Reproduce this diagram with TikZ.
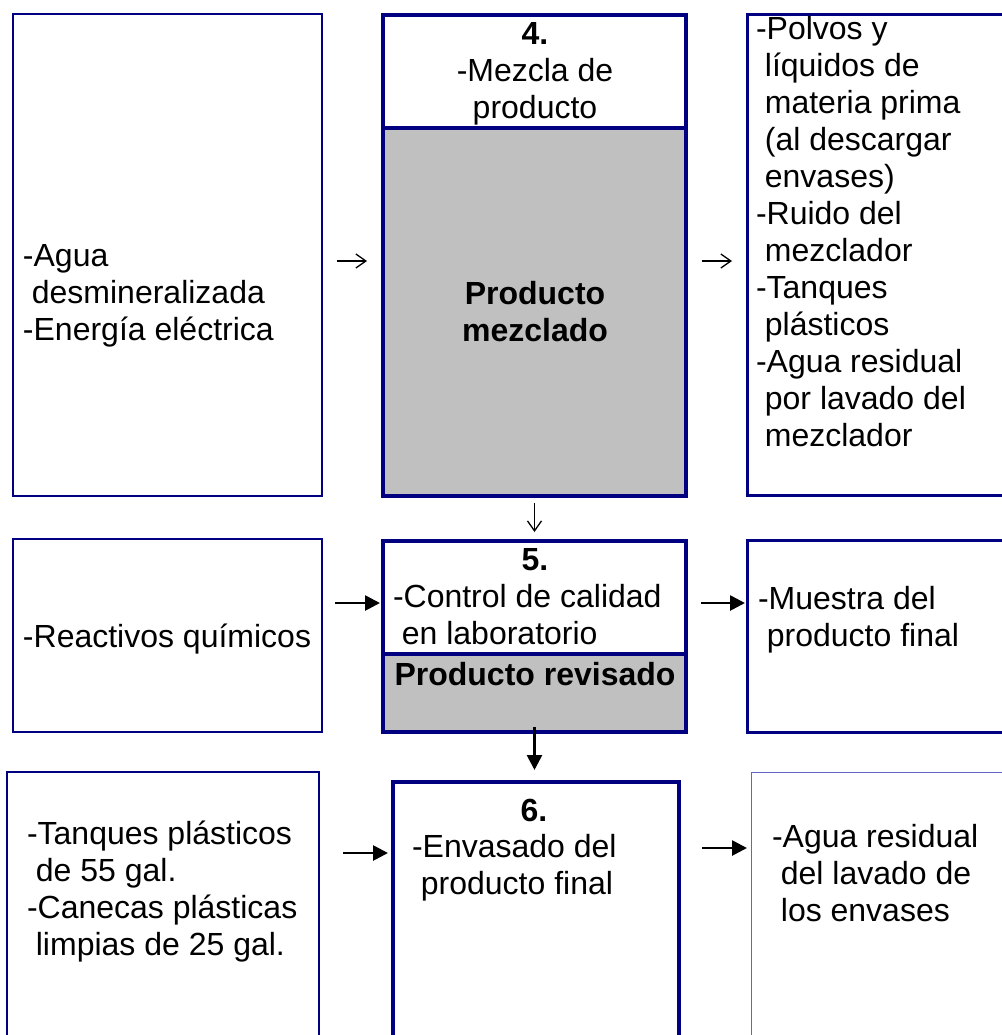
\documentclass[tikz,border=0pt]{standalone}
\usepackage{fontspec}
\setmainfont{Liberation Sans}
\usepackage{xcolor}
\usetikzlibrary{arrows.meta, positioning}
\definecolor{marino}{RGB}{0,0,128}
\definecolor{lila}{RGB}{100,100,196}
\definecolor{relleno}{RGB}{192,192,192}

\begin{document}
\begin{tikzpicture}[x=0.5pt, y=-0.5pt,
    caja/.style={draw=marino, inner sep=0pt, outer sep=0pt},
    texto/.style={font=\fontsize{16}{18.5}\selectfont, inner sep=0pt, outer sep=0pt, align=left},
    negrita/.style={texto, font=\fontsize{16}{18.5}\selectfont\bfseries, align=center},
    flecha/.style={line width=0.65pt, -{Straight Barb[length=5pt, width=7pt]}},
    flechallena/.style={line width=1.35pt, -{Triangle[length=7.5pt, width=7.5pt]}}]
                    \useasboundingbox (0,0) rectangle (1002,1035);
                    \clip (0,0) rectangle (1002,1035);

                    \fill[relleno] (383,128) rectangle (686,496);
                    \fill[relleno] (383,654) rectangle (686,732);

                    \node[caja, line width=1pt, minimum width=154.5pt, minimum height=241pt] (Entrada4) at (167.5,255) {};
                    \node[caja, line width=2pt, minimum width=151.5pt, minimum height=240.5pt] (Paso4) at (534.5,255.5) {};
                    \node[caja, line width=1.5pt, minimum width=176.25pt, minimum height=240.5pt] (Salida4) at (923.75,255) {};

                    \node[caja, line width=1pt, minimum width=154.5pt, minimum height=96.5pt] (Entrada5) at (167.5,635.5) {};
                    \node[caja, line width=2pt, minimum width=151.5pt, minimum height=95.5pt] (Paso5) at (534.5,636.5) {};
                    \node[caja, line width=1.5pt, minimum width=176.25pt, minimum height=96pt] (Salida5) at (923.75,636) {};

                    \node[caja, line width=1pt, minimum width=156pt, minimum height=164pt] (Entrada6) at (163,936) {};
                    \node[caja, line width=2pt, minimum width=143pt, minimum height=159pt] (Paso6) at (536,941) {};
                    \node[caja, draw=lila, line width=0.5pt, minimum width=174.5pt, minimum height=164pt] (Salida6) at (925.5,936) {};

                    \draw[marino, line width=2pt] (Paso4.west |- 0,128) -- (Paso4.east |- 0,128);
                    \draw[marino, line width=2pt] (Paso5.west |- 0,654) -- (Paso5.east |- 0,654);

                    \node[texto, anchor=north west] (TextoEntrada4) at (23,241) {\strut-Agua\\\ desmineralizada\\-Energía eléctrica};
                    \node[texto, align=center, anchor=north] (TextoPaso4) at (535,19) {\strut{\bfseries 4.}\\-Mezcla de\\producto};
                    \node[negrita, anchor=north] (ProductoPaso4) at (535,279) {\strut Producto\\mezclado};
                    \node[texto, anchor=north west] (TextoSalida4) at (756,14) {\strut-Polvos y\\\ líquidos de\\\ materia prima\\\ (al descargar\\\ envases)\\-Ruido del\\\ mezclador\\-Tanques\\\ plásticos\\-Agua residual\\\ por lavado del\\\ mezclador};

                    \node[texto, anchor=north west] (TextoEntrada5) at (23,622) {\strut-Reactivos químicos};
                    \node[negrita, anchor=north] (NumeroPaso5) at (535,545) {\strut 5.};
                    \node[texto, anchor=north west] (TextoPaso5) at (393,582) {\strut-Control de calidad\\\ en laboratorio};
                    \node[negrita, anchor=north] (ProductoPaso5) at (535,660) {\strut Producto revisado};
                    \node[texto, anchor=north west] (TextoSalida5) at (758,584) {\strut-Muestra del\\\ producto final};

                    \node[texto, anchor=north west] (TextoEntrada6) at (27,819) {\strut-Tanques plásticos\\\ de 55 gal.\\-Canecas plásticas\\\ limpias de 25 gal.};
                    \node[negrita, anchor=north] (NumeroPaso6) at (534,796) {\strut 6.};
                    \node[texto, anchor=north west] (TextoPaso6) at (412,832) {\strut-Envasado del\\\ producto final};
                    \node[texto, anchor=north west] (TextoSalida6) at (772,822) {\strut-Agua residual\\\ del lavado de\\\ los envases};

                    \draw[flecha, shorten <=7.5pt, shorten >=8pt] ([yshift=-3pt]Entrada4.east) -- ([yshift=-2.75pt]Paso4.west);
                    \draw[flecha, shorten <=8pt, shorten >=7.75pt] ([yshift=-2.75pt]Paso4.east) -- ([yshift=-3pt]Salida4.west);
                    \draw[flecha, shorten <=3.5pt, shorten >=4.5pt] (Paso4.south) -- (Paso5.north);

                    \draw[flechallena, shorten <=6.5pt, shorten >=1.5pt] ([yshift=16.25pt]Entrada5.east) -- ([yshift=16.75pt]Paso5.west);
                    \draw[flechallena, shorten <=7.5pt, shorten >=1.25pt] ([yshift=16.75pt]Paso5.east) -- ([yshift=16.5pt]Salida5.west);
                    \draw[flechallena, shorten <=-2.5pt, shorten >=6pt] (Paso5.south) -- (Paso5.south |- Paso6.north);

                    \draw[flechallena, shorten <=12pt, shorten >=2.5pt] ([yshift=41.5pt]Entrada6.east) -- ([yshift=44pt]Paso6.west);
                    \draw[flechallena, shorten <=11.5pt, shorten >=2pt] ([yshift=46.5pt]Paso6.east) -- ([yshift=44pt]Salida6.west);
                \end{tikzpicture}
\end{document}
